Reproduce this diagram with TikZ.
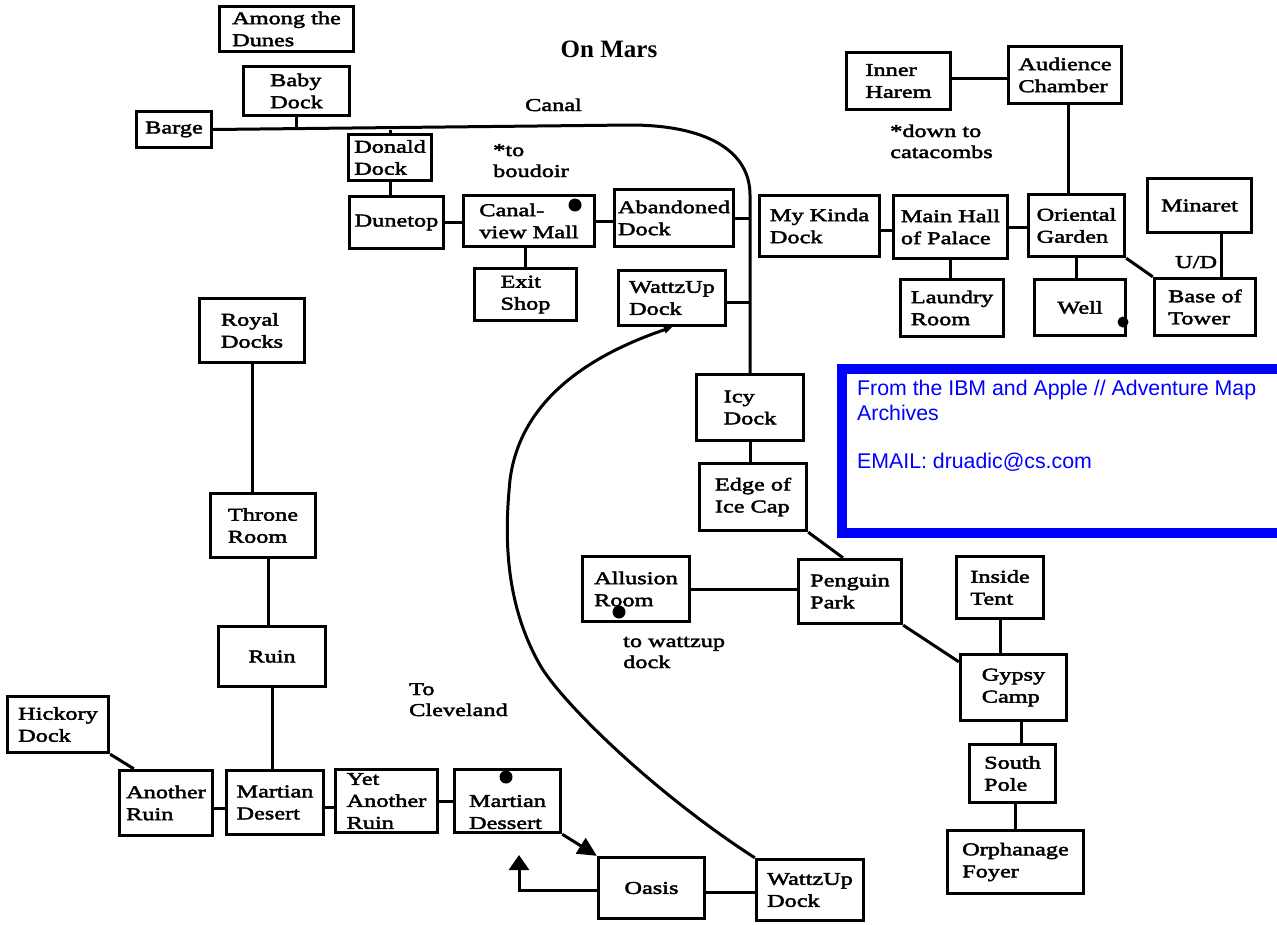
\documentclass[tikz,border=0pt]{standalone}
\usepackage{fontspec}
\newfontfamily\roomfont{Liberation Serif}[FakeStretch=1.35,FakeBold=2.5]
\newfontfamily\titlefont{Liberation Serif}
\newfontfamily\notefont{Liberation Sans}
\usetikzlibrary{arrows.meta,calc}
\definecolor{mapblue}{RGB}{0,0,255}
\begin{document}
\begin{tikzpicture}[x=1pt,y=-1pt,
  room/.style={draw, line width=3.4pt, inner sep=0pt, align=left,
    font=\roomfont\fontsize{18}{22}\selectfont},
  link/.style={line width=3pt},
  lbl/.style={inner sep=0pt, anchor=base west, align=left,
    font=\roomfont\fontsize{18}{21}\selectfont},
  spot/.style={fill, circle, inner sep=0pt, minimum size=13pt},
  bigtip/.style={-{Triangle[length=19pt,width=18pt]}}]
\useasboundingbox (0,0) rectangle (1277,924);

% ---- rooms
\node[room, minimum width=134pt, minimum height=45pt] (dunes) at (286.5,29) {Among the\\Dunes};
\node[room, minimum width=106pt, minimum height=49pt] (baby) at (296.5,91) {Baby\\Dock};
\node[room, minimum width=75pt, minimum height=36pt] (barge) at (174,129.5) {Barge};
\node[room, minimum width=83pt, minimum height=46pt] (donald) at (390,157.5) {Donald\\Dock};
\node[room, minimum width=94pt, minimum height=52pt] (dunetop) at (396.5,222.5) {Dunetop};
\node[room, minimum width=131pt, minimum height=51pt] (mall) at (529,221) {Canal-\\view Mall};
\node[room, minimum width=119pt, minimum height=57pt] (abandoned) at (674,218) {Abandoned\\Dock};
\node[room, minimum width=102pt, minimum height=52pt] (exit) at (525.5,294.5) {Exit\\Shop};
\node[room, minimum width=107pt, minimum height=55pt] (wtop) at (672,298) {WattzUp\\Dock};
\node[room, minimum width=120pt, minimum height=61pt] (mykinda) at (819.5,226) {My Kinda\\Dock};
\node[room, minimum width=114pt, minimum height=63pt] (mainhall) at (950.5,227) {Main Hall\\of Palace};
\node[room, minimum width=96pt, minimum height=62pt] (oriental) at (1076.5,225.5) {Oriental\\Garden};
\node[room, minimum width=104pt, minimum height=57pt] (inner) at (898.5,81) {Inner\\Harem};
\node[room, minimum width=113pt, minimum height=57pt] (audience) at (1065,75) {Audience\\Chamber};
\node[room, minimum width=103pt, minimum height=57pt] (laundry) at (952,308) {Laundry\\Room};
\node[room, minimum width=91pt, minimum height=56pt] (well) at (1080,307.5) {Well};
\node[room, minimum width=104pt, minimum height=54pt] (minaret) at (1199.5,205.5) {Minaret};
\node[room, minimum width=101pt, minimum height=57pt] (base) at (1205,307) {Base of\\Tower};
\node[room, minimum width=105pt, minimum height=64pt] (royal) at (252,330.5) {Royal\\Docks};
\node[room, minimum width=105pt, minimum height=64pt] (throne) at (263,525.5) {Throne\\Room};
\node[room, minimum width=107pt, minimum height=60pt] (ruin) at (272,656.5) {Ruin};
\node[room, minimum width=107pt, minimum height=66pt] (icy) at (750,407.5) {Icy\\Dock};
\node[room, minimum width=107pt, minimum height=67pt] (edge) at (753,497) {Edge of\\Ice Cap};
\node[room, minimum width=107pt, minimum height=65pt] (allusion) at (636,589) {Allusion\\Room};
\node[room, minimum width=103pt, minimum height=64pt] (penguin) at (850,591.5) {Penguin\\Park};
\node[room, minimum width=87pt, minimum height=62pt] (inside) at (1000,587.5) {Inside\\Tent};
\node[room, minimum width=106pt, minimum height=66pt] (gypsy) at (1013.5,687.5) {Gypsy\\Camp};
\node[room, minimum width=86pt, minimum height=58pt] (south) at (1012.5,773.5) {South\\Pole};
\node[room, minimum width=136pt, minimum height=63pt] (orphanage) at (1015.5,862) {Orphanage\\Foyer};
\node[room, minimum width=101pt, minimum height=56pt] (hickory) at (58,724.5) {Hickory\\Dock};
\node[room, minimum width=93pt, minimum height=65pt] (another) at (166,803) {Another\\Ruin};
\node[room, minimum width=97pt, minimum height=64pt] (mdesert) at (275,802.5) {Martian\\Desert};
\node[room, minimum width=102pt, minimum height=63pt] (yet) at (386.5,801) {Yet\\Another\\Ruin};
\node[room, minimum width=106pt, minimum height=63pt] (mdessert) at (507.5,801) {\rule{0pt}{0pt}\\[12pt]Martian\\Dessert};
\node[room, minimum width=106pt, minimum height=61pt] (oasis) at (651.5,888) {Oasis};
\node[room, minimum width=107pt, minimum height=61pt] (wbot) at (810,890) {WattzUp\\Dock};

% ---- markers
\node[spot] (dotmall) at (575,205) {};
\node[spot] (dotallusion) at (619,612) {};
\node[spot] (dotdessert) at (506,777) {};
\node[spot, minimum size=11pt] (dotwell) at (1123,322) {};

% ---- labels
\node[font=\titlefont\bfseries\fontsize{25}{28}\selectfont, anchor=base, inner sep=0pt] (title) at (609,57) {On Mars};
\node[lbl] (canallbl) at (525,111) {Canal};
\node[lbl] (boudoir) at (493,177) {*to\\boudoir};
\node[lbl] (catacombs) at (890,158) {*down to\\catacombs};
\node[lbl] (towattzup) at (623,668) {to wattzup\\dock};
\node[lbl] (cleveland) at (409,716) {To\\Cleveland};
\node[lbl] (ud) at (1175,268) {U/D};

% ---- canal
\coordinate (canalbend) at (630,125);
\coordinate (canaldown) at (750,195);
\draw[link] (barge.east) -- (canalbend) .. controls +(75,0) and +(0,-45) .. (canaldown) -- (icy.north);
\draw[link] (baby.south) -- (baby.south |- barge.east);
\draw[link] (donald.north) -- (donald.north |- barge.east);
\draw[link] (abandoned.east) -- (abandoned.east -| icy.north);
\draw[link] ([yshift=-4pt]wtop.east) -- ([yshift=-4pt]wtop.east -| icy.north);

% ---- connectors
\draw[link] (donald.south) -- (donald.south |- dunetop.north);
\draw[link] (dunetop.east) -- (dunetop.east -| mall.west);
\draw[link] (mall.east) -- (mall.east -| abandoned.west);
\draw[link] (exit.north) -- (exit.north |- mall.south);
\draw[link] ([yshift=-4pt]mykinda.east) -- ([yshift=-4pt]mykinda.east -| mainhall.west);
\draw[link] (mainhall.east) -- (mainhall.east -| oriental.west);
\draw[link] ([yshift=3pt]inner.east) -- ([yshift=3pt]inner.east -| audience.west);
\draw[link] ([xshift=3pt]audience.south) -- ([xshift=3pt]audience.south |- oriental.north);
\draw[link] (mainhall.south) -- (mainhall.south |- laundry.north);
\draw[link] (oriental.south) -- (oriental.south |- well.north);
\draw[link] (oriental.south east) -- (base.north west);
\draw[link] ([xshift=22pt]minaret.south) -- ([xshift=22pt]minaret.south |- base.north);
\draw[link] (icy.south) -- (icy.south |- edge.north);
\draw[link] (edge.south east) -- ([xshift=-7pt]penguin.north);
\draw[link] (allusion.east) -- (allusion.east -| penguin.west);
\draw[link] (penguin.south east) -- ([yshift=-9pt]gypsy.north west);
\draw[link] (inside.south) -- (inside.south |- gypsy.north);
\draw[link] ([xshift=8pt]gypsy.south) -- ([xshift=8pt]gypsy.south |- south.north);
\draw[link] (orphanage.north) -- (orphanage.north |- south.south);
\draw[link] (royal.south) -- (royal.south |- throne.north);
\draw[link] ([xshift=5pt]throne.south) -- ([xshift=5pt]throne.south |- ruin.north);
\draw[link] (ruin.south) -- (ruin.south |- mdesert.north);
\draw[link] (hickory.south east) -- ([xshift=16pt]another.north west);
\draw[link] ([yshift=-5pt]another.east) -- ([yshift=-5pt]another.east -| mdesert.west);
\draw[link] ([yshift=-5pt]mdesert.east) -- ([yshift=-5pt]mdesert.east -| yet.west);
\draw[link] (yet.east) -- (yet.east -| mdessert.west);
\draw[link, bigtip] (mdessert.south east) -- (oasis.north west);
\coordinate (loopend) at (519,855);
\draw[link, -{Triangle[length=15pt,width=20pt]}] ([yshift=-2pt]oasis.west) -| (loopend);
\draw[link] ([yshift=-4pt]oasis.east) -- ([yshift=-4pt]oasis.east -| wbot.west);
\draw[line width=3pt, -{Triangle[length=8pt,width=7pt]}] (wbot.north west)
  .. controls (650,790) and (560,700) .. (540,665)
  .. controls (503,600) and (505,530) .. (510,480)
  .. controls (520,400) and (590,355) .. (wtop.south);

% ---- credit box
\draw[mapblue, line width=10pt] (842,369) rectangle (1300,533);
\node[inner sep=0pt, anchor=base west, align=left, text=mapblue,
  font=\notefont\fontsize{21.3}{25}\selectfont] (credit) at (857,468)
  {From the IBM and Apple // Adventure Map\\Archives\\[23pt]EMAIL: druadic@cs.com};
\end{tikzpicture}
\end{document}
